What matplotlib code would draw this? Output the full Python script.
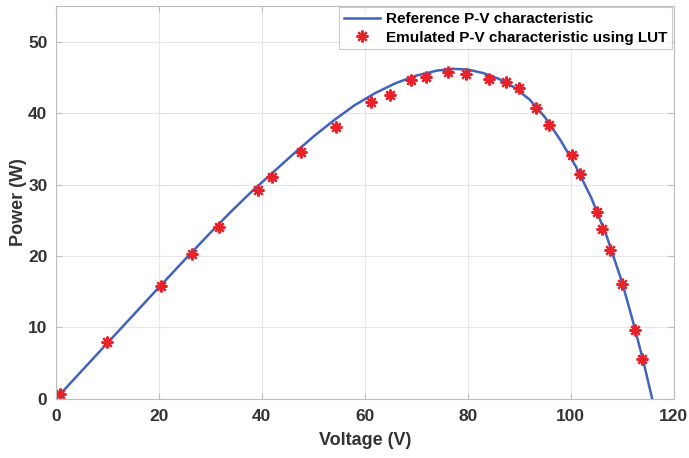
import matplotlib
matplotlib.use('Agg')
import matplotlib.pyplot as plt

plt.rcParams['font.family'] = ['Liberation Sans', 'DejaVu Sans']
plt.rcParams['font.weight'] = 'bold'

# reference P-V curve
ref_v = [0, 5, 10, 15, 20, 25, 30, 34, 38, 42, 46, 50, 54, 58, 62, 66, 70,
         74, 77, 80, 83, 86, 89, 92, 95, 98, 101, 104, 107, 110, 112, 114, 115.8]
ref_p = [0, 3.9, 7.8, 11.7, 15.6, 19.45, 23.25, 26.2, 29.0, 31.6, 34.2,
         36.7, 39.0, 41.1, 42.8, 44.2, 45.25, 45.95, 46.2, 46.1, 45.6, 44.8,
         43.6, 41.9, 39.4, 36.2, 32.5, 28.1, 22.7, 16.2, 11.0, 5.5, 0]

# emulated points using LUT
lut_v = [0.8, 10.0, 20.5, 26.5, 31.6, 39.2, 41.9, 47.7, 54.5, 61.2, 64.8,
         68.9, 71.9, 76.1, 79.6, 84.2, 87.5, 89.9, 93.3, 95.7, 100.2, 101.7,
         105.0, 106.0, 107.7, 110.0, 112.4, 113.8]
lut_p = [0.7, 8.0, 15.8, 20.3, 24.1, 29.3, 31.0, 34.6, 38.0, 41.6, 42.5,
         44.6, 45.1, 45.7, 45.5, 44.8, 44.4, 43.5, 40.7, 38.4, 34.2, 31.5,
         26.2, 23.8, 20.9, 16.1, 9.7, 5.6]

fig = plt.figure(figsize=(6.89, 4.58), dpi=100)
ax = fig.add_axes([0.081, 0.129, 0.897, 0.858])

ax.plot(ref_v, ref_p, color='#4163BE', lw=1.8, label='Reference P-V characteristic')
ax.plot(lut_v, lut_p, ls='none', marker=(8, 2, 0), ms=8.5, mew=1.6,
        color='#E8222A', label='Emulated P-V characteristic using LUT')

ax.set_xlim(0, 120)
ax.set_ylim(0, 55)
ax.set_xticks(range(0, 121, 20))
ax.set_yticks(range(0, 51, 10))
ax.grid(True, color='#E6E6E6', lw=0.8)
ax.set_axisbelow(True)
for s in ax.spines.values():
    s.set_color('#BDBDBD')
ax.tick_params(direction='in', top=True, right=True, color='#BDBDBD',
               labelsize=12.5, labelcolor='#333333', length=4)
ax.tick_params(axis='x', pad=7)
ax.tick_params(axis='y', pad=6)
for t in ax.get_xticklabels() + ax.get_yticklabels():
    t.set_fontweight('bold')

ax.set_xlabel('Voltage (V)', fontsize=13, fontweight='bold', color='#333333', labelpad=6)
ax.set_ylabel('Power (W)', fontsize=13, fontweight='bold', color='#333333', labelpad=1)

leg = ax.legend(loc='upper right', frameon=True, fancybox=False,
                borderpad=0.3, handlelength=2.4, handletextpad=0.4,
                labelspacing=0.3, borderaxespad=0.1, prop={'weight': 'bold', 'size': 11})
leg.get_frame().set_edgecolor('#BDBDBD')
leg.get_frame().set_linewidth(0.8)

fig.savefig('out.png', dpi=100)
